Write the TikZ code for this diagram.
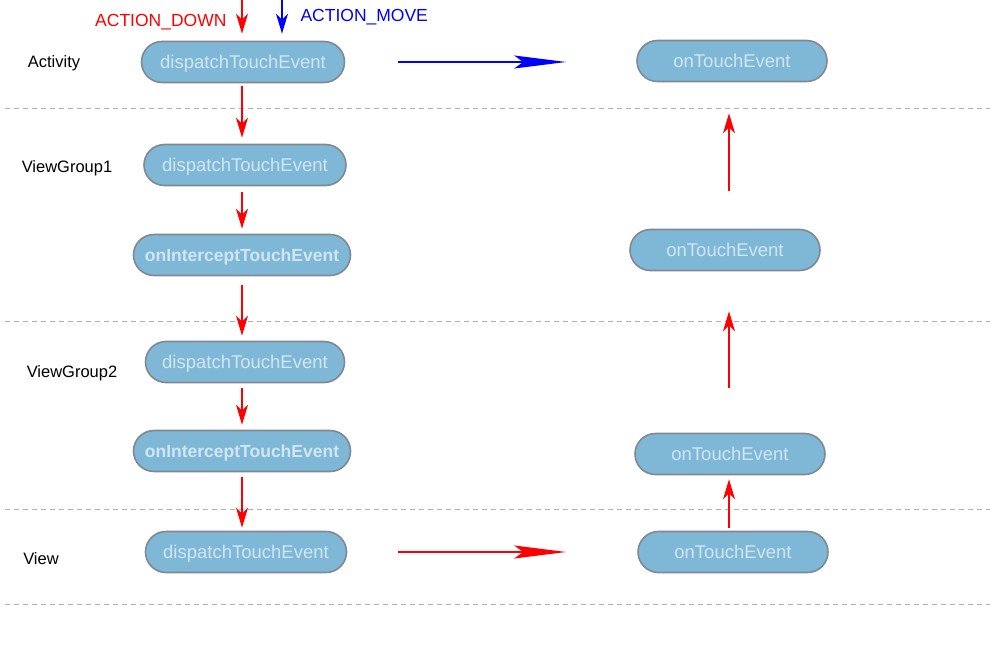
\documentclass[tikz,border=0pt]{standalone}
\usepackage{fontspec}
\setmainfont{Liberation Sans}
\usetikzlibrary{arrows.meta}

\definecolor{boxfill}{RGB}{127,184,214}
\definecolor{boxline}{RGB}{128,136,146}
\definecolor{boxtext}{RGB}{208,230,243}
\definecolor{sepline}{RGB}{175,175,175}

\begin{document}
\begin{tikzpicture}[x=1pt, y=-1pt,
    event/.style = {draw = boxline, line width = 1.6pt, fill = boxfill, rounded corners = 20.5pt,
        minimum height = 41pt, text = boxtext, font = \fontsize{18.5}{22}\selectfont, inner sep = 0pt,
        text height = 13.5pt, text depth = 0.5pt},
    intercept/.style = {event, minimum width = 217pt, font = \fontsize{17.5}{21}\selectfont\bfseries},
    layer/.style = {font = \fontsize{16.5}{19}\selectfont},
    down/.style = {red, line width = 1.8pt, -{Stealth[length = 20pt, width = 12pt, inset = 6pt]}},
    pass/.style = {line width = 2pt, -{Stealth[length = 52pt, width = 13pt, inset = 9pt]}},
    sep/.style = {sepline, line width = 1pt, dash pattern = on 5pt off 4pt}]
        \useasboundingbox (0,0) rectangle (992,647);

        % layers
        \draw[sep] (5,109) -- (990,109);
        \draw[sep] (5,321) -- (990,321);
        \draw[sep] (5,509) -- (990,509);
        \draw[sep] (5,604) -- (990,604);

        \node[layer] (activity) at (54,63) {Activity};
        \node[layer] (group1) at (67,168) {ViewGroup1};
        \node[layer] (group2) at (72,373) {ViewGroup2};
        \node[layer] (view) at (41,559) {View};

        % dispatch side
        \node[event, minimum width = 203pt] (ad) at (243,62) {dispatchTouchEvent};
        \node[event, minimum width = 202pt] (g1d) at (245,165) {dispatchTouchEvent};
        \node[intercept] (g1i) at (242,255) {onInterceptTouchEvent};
        \node[event, minimum width = 199pt] (g2d) at (245,362) {dispatchTouchEvent};
        \node[intercept] (g2i) at (242,451) {onInterceptTouchEvent};
        \node[event, minimum width = 201pt] (vd) at (246,552) {dispatchTouchEvent};

        % touch side
        \node[event, minimum width = 190pt] (at) at (732,61) {onTouchEvent};
        \node[event, minimum width = 190pt] (g1t) at (725,250) {onTouchEvent};
        \node[event, minimum width = 190pt] (g2t) at (730,454) {onTouchEvent};
        \node[event, minimum width = 190pt] (vt) at (733,552) {onTouchEvent};

        % incoming events
        \coordinate (downin) at (242,0);
        \coordinate (movein) at (282,0);
        \draw[down, shorten >= 7pt] (downin) -- (downin |- ad.north);
        \draw[down, blue, shorten >= 7pt] (movein) -- (movein |- ad.north);
        \node[red, anchor = east, font = \fontsize{17.5}{20}\selectfont] (downlabel) at (230,22) {ACTION\_DOWN};
        \node[blue, anchor = west, font = \fontsize{17.5}{20}\selectfont] (movelabel) at (297,17) {ACTION\_MOVE};

        \draw[down, shorten < = 3pt, shorten > = 6pt] (ad.south -| downin) -- (g1d.north -| downin);
        \draw[down, shorten < = 6pt, shorten > = 5pt] (g1d.south -| downin) -- (g1i.north -| downin);
        \draw[down, shorten < = 9pt, shorten > = 5pt] (g1i.south -| downin) -- (g2d.north -| downin);
        \draw[down, shorten < = 5pt, shorten > = 5pt] (g2d.south -| downin) -- (g2i.north -| downin);
        \draw[down, shorten < = 5pt, shorten > = 3pt] (g2i.south -| downin) -- (vd.north -| downin);

        \draw[pass, blue, shorten < = 53pt, shorten > = 70pt] (ad.east) -- (at.west |- ad.east);
        \draw[pass, red, shorten < = 51pt, shorten > = 71pt] (vd.east) -- (vt.west);

        % back up
        \draw[down, shorten < = 3pt, shorten > = 4pt] (vt.north -| 729,0) -- (g2t.south -| 729,0);
        \draw[down, shorten < = 45pt, shorten > = 40pt] (g2t.north -| 729,0) -- (g1t.south -| 729,0);
        \draw[down, shorten < = 38pt, shorten > = 31pt] (g1t.north -| 729,0) -- (at.south -| 729,0);
    \end{tikzpicture}
\end{document}
